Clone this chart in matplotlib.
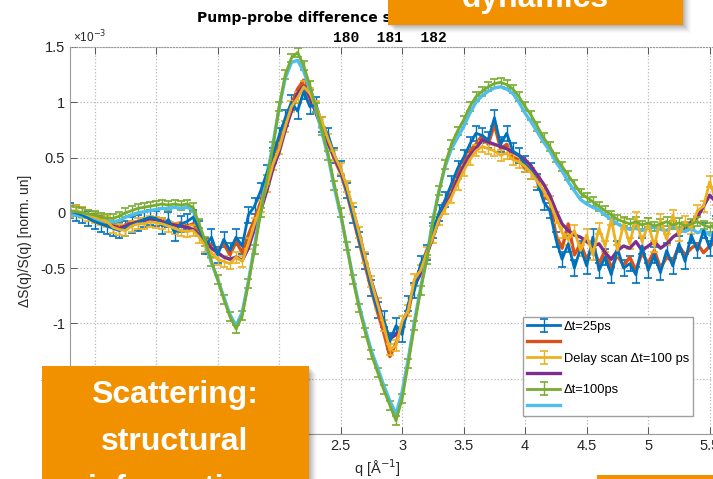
import matplotlib
matplotlib.use("Agg")
import matplotlib.pyplot as plt
import numpy as np
from matplotlib.patches import Rectangle

plt.rcParams["font.family"] = ["Liberation Sans", "DejaVu Sans"]
plt.rcParams["axes.unicode_minus"] = False

# q grid [1/A], 0.30 .. 5.60 step 0.05
q = np.round(np.arange(0.30, 5.601, 0.05), 2)

# dS/S values in units of 1e-3
s_25ps = [
    0.02, 0.00, -0.02, -0.05, -0.08, -0.10, -0.12, -0.14, -0.16, -0.14,
    -0.11, -0.09, -0.06, -0.04, -0.05, -0.12, -0.06, -0.18, -0.10, -0.08,
    -0.04, -0.14, -0.30, -0.22, -0.38, -0.24, -0.34, -0.22, -0.30, -0.02,
    0.06, 0.20, 0.36, 0.52, 0.70, 0.86, 1.00, 0.92, 1.10, 0.96,
    0.98, 0.80, 0.70, 0.52, 0.40, 0.20, -0.02, -0.24, -0.44, -0.68,
    -0.88, -0.96, -1.16, -1.02, -1.10, -0.82, -0.70, -0.46, -0.36, -0.16,
    0.00, 0.12, 0.26, 0.40, 0.50, 0.62, 0.72, 0.70, 0.66, 0.86,
    0.62, 0.72, 0.56, 0.52, 0.44, 0.38, 0.28, 0.10, 0.02, -0.24,
    -0.42, -0.28, -0.50, -0.32, -0.48, -0.22, -0.52, -0.40, -0.56, -0.32,
    -0.50, -0.46, -0.56, -0.30, -0.52, -0.38, -0.54, -0.34, -0.48, -0.28,
    -0.44, -0.20, -0.34, -0.16, -0.32, -0.10, -0.24,
]
s_25ps_b = [
    0.00, -0.02, -0.01, -0.04, -0.06, -0.07, -0.11, -0.10, -0.13, -0.11,
    -0.08, -0.09, -0.05, -0.07, -0.04, -0.07, -0.08, -0.10, -0.09, -0.12,
    -0.10, -0.18, -0.24, -0.30, -0.34, -0.28, -0.38, -0.26, -0.36, -0.20,
    -0.06, 0.10, 0.30, 0.48, 0.62, 0.82, 0.98, 1.12, 1.20, 1.02,
    0.94, 0.78, 0.64, 0.48, 0.36, 0.18, -0.04, -0.26, -0.48, -0.70,
    -0.90, -1.08, -1.30, -1.18, -1.00, -0.90, -0.62, -0.50, -0.34, -0.20,
    -0.02, 0.10, 0.22, 0.34, 0.46, 0.56, 0.62, 0.70, 0.62, 0.80,
    0.58, 0.62, 0.50, 0.48, 0.40, 0.38, 0.30, 0.14, 0.12, -0.20,
    -0.32, -0.10, -0.38, -0.28, -0.42, -0.30, -0.46, -0.34, -0.50, -0.38,
    -0.48, -0.40, -0.52, -0.36, -0.46, -0.34, -0.50, -0.40, -0.44, -0.30,
    -0.38, -0.32, -0.28, -0.36, -0.30, -0.26, -0.30,
]
s_delay = [
    0.01, 0.02, 0.00, -0.02, -0.04, -0.06, -0.08, -0.13, -0.15, -0.16,
    -0.12, -0.10, -0.10, -0.08, -0.09, -0.10, -0.12, -0.14, -0.16, -0.17,
    -0.16, -0.22, -0.30, -0.36, -0.42, -0.44, -0.46, -0.40, -0.44, -0.28,
    -0.10, 0.06, 0.24, 0.44, 0.58, 0.78, 0.96, 1.04, 1.14, 1.08,
    0.96, 0.82, 0.66, 0.52, 0.40, 0.24, 0.04, -0.18, -0.40, -0.62,
    -0.82, -1.02, -1.24, -1.20, -0.98, -0.88, -0.60, -0.52, -0.36, -0.22,
    -0.06, 0.04, 0.14, 0.26, 0.38, 0.48, 0.56, 0.60, 0.58, 0.56,
    0.52, 0.54, 0.48, 0.46, 0.42, 0.36, 0.28, 0.20, 0.10, -0.04,
    -0.18, -0.24, -0.16, -0.34, -0.20, -0.38, -0.14, -0.30, -0.06, -0.34,
    -0.10, -0.28, -0.04, -0.26, -0.10, -0.30, -0.06, -0.24, -0.02, -0.20,
    -0.08, -0.14, 0.02, 0.06, 0.28, 0.12, 0.20,
]
s_delay_b = [
    0.00, -0.01, -0.02, -0.03, -0.05, -0.08, -0.10, -0.12, -0.14, -0.12,
    -0.10, -0.08, -0.07, -0.06, -0.06, -0.08, -0.10, -0.11, -0.12, -0.13,
    -0.15, -0.20, -0.26, -0.32, -0.36, -0.40, -0.42, -0.40, -0.43, -0.32,
    -0.14, 0.02, 0.20, 0.40, 0.55, 0.75, 0.92, 1.08, 1.15, 1.05,
    0.90, 0.76, 0.62, 0.50, 0.38, 0.22, 0.02, -0.18, -0.42, -0.62,
    -0.80, -1.00, -1.14, -1.10, -1.04, -0.85, -0.66, -0.55, -0.38, -0.22,
    -0.06, 0.06, 0.16, 0.30, 0.42, 0.52, 0.58, 0.66, 0.64, 0.62,
    0.60, 0.58, 0.55, 0.52, 0.48, 0.42, 0.34, 0.26, 0.16, 0.02,
    -0.10, -0.16, -0.20, -0.22, -0.26, -0.30, -0.28, -0.36, -0.42, -0.34,
    -0.30, -0.32, -0.26, -0.34, -0.30, -0.26, -0.32, -0.28, -0.22, -0.18,
    -0.14, -0.08, -0.04, 0.06, 0.16, 0.10, 0.05,
]
s_100ps = [
    0.02, 0.01, 0.00, -0.01, -0.02, -0.04, -0.05, -0.05, -0.03, 0.00,
    0.02, 0.04, 0.05, 0.06, 0.07, 0.08, 0.07, 0.08, 0.07, 0.08,
    0.05, -0.10, -0.26, -0.44, -0.60, -0.78, -0.94, -1.05, -0.93, -0.64,
    -0.33, 0.00, 0.30, 0.60, 0.96, 1.25, 1.40, 1.45, 1.33, 1.15,
    0.95, 0.74, 0.52, 0.25, 0.00, -0.30, -0.60, -0.86, -1.08, -1.28,
    -1.44, -1.60, -1.74, -1.88, -1.68, -1.36, -1.02, -0.70, -0.42, -0.08,
    0.20, 0.44, 0.62, 0.74, 0.84, 0.96, 1.05, 1.10, 1.14, 1.17,
    1.18, 1.16, 1.12, 1.05, 0.96, 0.88, 0.78, 0.68, 0.60, 0.50,
    0.42, 0.34, 0.26, 0.18, 0.14, 0.10, 0.06, 0.02, -0.02, -0.06,
    -0.08, -0.10, -0.08, -0.11, -0.09, -0.12, -0.10, -0.08, -0.11, -0.09,
    -0.12, -0.10, -0.08, -0.11, -0.13, -0.10, -0.12,
]
s_100ps_b = [
    -0.02, -0.02, -0.03, -0.04, -0.05, -0.07, -0.08, -0.08, -0.07, -0.04,
    -0.02, 0.00, 0.01, 0.02, 0.03, 0.04, 0.04, 0.05, 0.04, 0.05,
    0.03, -0.12, -0.28, -0.45, -0.60, -0.76, -0.92, -1.02, -0.90, -0.62,
    -0.30, 0.03, 0.33, 0.62, 0.95, 1.22, 1.36, 1.38, 1.28, 1.12,
    0.93, 0.72, 0.50, 0.22, -0.02, -0.30, -0.58, -0.84, -1.05, -1.25,
    -1.40, -1.56, -1.70, -1.82, -1.62, -1.32, -0.98, -0.68, -0.40, -0.06,
    0.20, 0.42, 0.58, 0.68, 0.78, 0.90, 1.00, 1.06, 1.10, 1.13,
    1.14, 1.12, 1.08, 1.00, 0.90, 0.82, 0.73, 0.64, 0.56, 0.46,
    0.38, 0.28, 0.20, 0.12, 0.08, 0.05, 0.03, -0.02, -0.06, -0.10,
    -0.13, -0.15, -0.14, -0.16, -0.14, -0.13, -0.15, -0.16, -0.12, -0.15,
    -0.17, -0.14, -0.18, -0.16, -0.20, -0.19, -0.21,
]
err_25ps = 0.07
err_delay = 0.05
err_100ps = 0.04

labels = ["\u0394t=25ps", "", "Delay scan \u0394t=100 ps", "", "\u0394t=100ps", ""]
colors = ["#0072BD", "#D95319", "#EDB120", "#7E2F8E", "#77AC30", "#4DBEEE"]

W, H = 713, 479
fig = plt.figure(figsize=(W / 100, H / 100), dpi=100)
ax = fig.add_axes([70 / W, 45 / H, 652 / W, 387 / H])

eb = dict(capsize=2.6, elinewidth=1.0, capthick=1.2, lw=2.0)
h1 = ax.errorbar(q, s_25ps, yerr=err_25ps, color=colors[0], **eb)
(h2,) = ax.plot(q, s_25ps_b, color=colors[1], lw=2.4)
h3 = ax.errorbar(q, s_delay, yerr=err_delay, color=colors[2], **eb)
(h4,) = ax.plot(q, s_delay_b, color=colors[3], lw=2.4)
h5 = ax.errorbar(q, s_100ps, yerr=err_100ps, color=colors[4], **eb)
(h6,) = ax.plot(q, s_100ps_b, color=colors[5], lw=2.4)

ax.set_xlim(0.3, 5.6)
ax.set_ylim(-2, 1.5)
ax.set_xticks(np.arange(0.5, 5.51, 0.5))
ax.set_xticklabels(["0.5", "1", "1.5", "2", "2.5", "3", "3.5", "4", "4.5", "5", "5.5"])
ax.set_yticks(np.arange(-2, 1.51, 0.5))
ax.set_yticklabels(["-2", "-1.5", "-1", "-0.5", "0", "0.5", "1", "1.5"])
ax.tick_params(direction="in", top=True, right=True, length=5, width=0.7,
               colors="#555555", labelcolor="#262626", labelsize=10.5)
ax.grid(True, linestyle=":", color="#b8b8b8", lw=0.9)
for sp in ax.spines.values():
    sp.set_color("#9a9a9a")
    sp.set_linewidth(0.8)
ax.spines["top"].set_linestyle(":")

ax.set_xlabel("q [\u00c5$^{-1}$]", fontsize=10.5, color="#262626")
ax.xaxis.set_label_coords(0.472, -0.06)
ax.set_ylabel("\u0394S(q)/S(q) [norm. un]", fontsize=10, color="#262626")
ax.yaxis.set_label_coords(-0.058, 0.5)
ax.text(0.005, 1.005, "\u00d710$^{-3}$", transform=ax.transAxes, fontsize=8.5,
        color="#262626", va="bottom")

ax.legend([h1, h2, h3, h4, h5, h6], labels, loc="lower right",
          bbox_to_anchor=(0.955, 0.046), borderaxespad=0, fontsize=9.3,
          fancybox=False, framealpha=1, edgecolor="#a0a0a0", handlelength=2.6,
          labelspacing=0.3, handletextpad=0.25, borderpad=0.3)

fig.text(197 / W, 1 - 18 / H, "Pump-probe difference scattering, scans",
         fontsize=10, fontweight="bold", ha="left", va="center",
         family="DejaVu Sans")
fig.text(390 / W, 1 - 38 / H, "180  181  182", fontsize=10.5,
         fontweight="bold", ha="center", va="center", family="Liberation Mono")


def orange_box(x0, y0, x1, y1):
    # pixel box (top-left origin) with a soft shadow
    for k, a in zip(range(8, 0, -1), [0.03, 0.04, 0.05, 0.06, 0.07, 0.08, 0.09, 0.1]):
        fig.patches.append(Rectangle(((x0 + k) / W, 1 - (y1 + k) / H),
                                     (x1 - x0) / W, (y1 - y0) / H,
                                     transform=fig.transFigure, color="black",
                                     alpha=a * 0.6, lw=0, zorder=10))
    fig.patches.append(Rectangle((x0 / W, 1 - y1 / H), (x1 - x0) / W, (y1 - y0) / H,
                                 transform=fig.transFigure, color="#f29100",
                                 lw=0, zorder=11))


orange_box(388, -20, 683, 25)
orange_box(42, 366, 309, 520)
orange_box(597, 475, 760, 540)

box_font = dict(color="white", fontweight="bold", fontsize=23, ha="center",
                family="Liberation Sans", zorder=12)
fig.text(535 / W, 1 - 7 / H, "dynamics", va="baseline", **box_font)
fig.text(175 / W, 1 - 395 / H, "Scattering:", va="center", **box_font)
fig.text(175 / W, 1 - 442 / H, "structural", va="center", **box_font)
fig.text(175 / W, 1 - 489 / H, "information", va="center", **box_font)

fig.savefig("out.png", dpi=100)
